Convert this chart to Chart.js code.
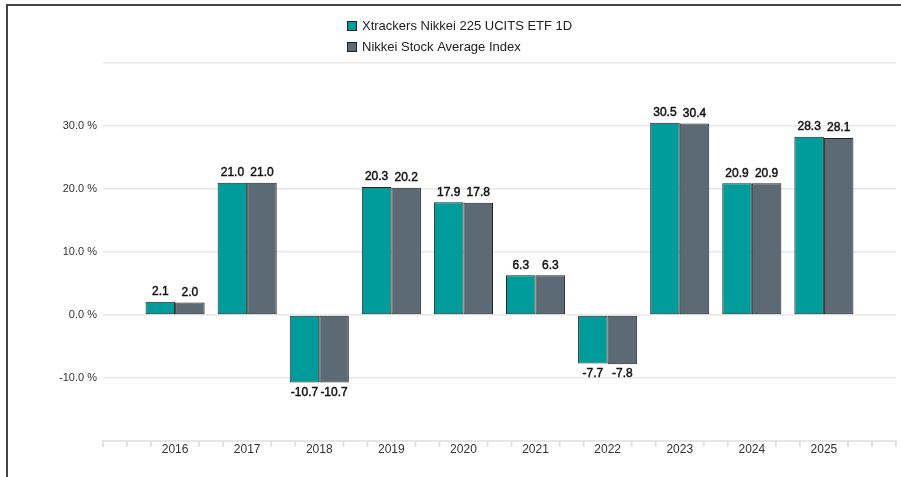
<!DOCTYPE html>
<html>
<head>
<meta charset="utf-8">
<script src="https://cdn.jsdelivr.net/npm/chart.js@4"></script>
<style>
  body { margin: 0; background: #fff; }
  #wrap { position: relative; width: 901px; height: 477px; overflow: hidden; }
  #frame {
    position: absolute; left: 6px; top: 4px; right: -10px; bottom: -10px;
    border-left: 2px solid #444; border-top: 2px solid #444;
    pointer-events: none;
  }
</style>
</head>
<body>
<div id="wrap">
  <canvas id="chart" width="901" height="477"></canvas>
  <div id="frame"></div>
</div>
<script>
const years = ["2016", "2017", "2018", "2019", "2020", "2021", "2022", "2023", "2024", "2025"];
const etfValues = [2.1, 21.0, -10.7, 20.3, 17.9, 6.3, -7.7, 30.5, 20.9, 28.3];
const indexValues = [2.0, 21.0, -10.7, 20.2, 17.8, 6.3, -7.8, 30.4, 20.9, 28.1];
const seriesNames = ["Xtrackers Nikkei 225 UCITS ETF 1D", "Nikkei Stock Average Index"];
const yTicks = [-20, -10, 0, 10, 20, 30, 40];

const teal = "#009c9c";
const slate = "#5b6a74";

Chart.defaults.font.family = "'Liberation Sans', Arial, sans-serif";
Chart.defaults.color = "#333";

// empty slot at each end of the axis, like the original
const labels = ["", ...years, ""];
const pad = (arr) => [null, ...arr, null];

const valueLabels = {
  id: "valueLabels",
  afterDatasetsDraw(chart) {
    const ctx = chart.ctx;
    ctx.save();
    ctx.font = "12px 'Liberation Sans', Arial, sans-serif";
    ctx.fillStyle = "#111";
    ctx.strokeStyle = "#111";
    ctx.lineWidth = 0.45;
    ctx.textAlign = "center";
    chart.data.datasets.forEach((ds, di) => {
      chart.getDatasetMeta(di).data.forEach((bar, i) => {
        const v = ds.data[i];
        if (v === null) return;
        const txt = v.toFixed(1);
        let y;
        if (v >= 0) {
          ctx.textBaseline = "bottom";
          y = bar.y - 4;
        } else {
          ctx.textBaseline = "top";
          y = bar.y + 4;
        }
        ctx.fillText(txt, bar.x, y);
        ctx.strokeText(txt, bar.x, y);
      });
    });
    ctx.restore();
  },
};

const axisTicks = {
  id: "axisTicks",
  afterDraw(chart) {
    const x = chart.scales.x;
    const ctx = chart.ctx;
    const n = chart.data.labels.length;
    const marks = [x.left, x.right];
    for (let i = 0; i < n - 1; i++) {
      const a = x.getPixelForValue(i);
      const b = x.getPixelForValue(i + 1);
      marks.push(a + (b - a) / 3, a + (2 * (b - a)) / 3);
    }
    ctx.save();
    ctx.strokeStyle = "#e2e2e2";
    ctx.lineWidth = 2;
    marks.forEach((px) => {
      ctx.beginPath();
      ctx.moveTo(px, x.top);
      ctx.lineTo(px, x.top + 6);
      ctx.stroke();
    });
    ctx.restore();
  },
};

const stackedLegend = {
  id: "stackedLegend",
  afterDraw(chart, args, opts) {
    const ctx = chart.ctx;
    ctx.save();
    ctx.font = "13px 'Liberation Sans', Arial, sans-serif";
    ctx.textBaseline = "middle";
    ctx.textAlign = "left";
    chart.data.datasets.forEach((ds, i) => {
      const cy = opts.top + i * opts.rowGap;
      ctx.fillStyle = ds.backgroundColor;
      ctx.fillRect(opts.left, cy - 5, 10, 10);
      ctx.strokeStyle = "#222";
      ctx.lineWidth = 1;
      ctx.strokeRect(opts.left + 0.5, cy - 4.5, 9, 9);
      ctx.fillStyle = "#222";
      ctx.fillText(ds.label, opts.left + 15, cy);
    });
    ctx.restore();
  },
};

new Chart(document.getElementById("chart"), {
  type: "bar",
  data: {
    labels: labels,
    datasets: [
      {
        label: seriesNames[0],
        data: pad(etfValues),
        backgroundColor: teal,
        borderColor: "#222",
        borderWidth: 1,
        borderSkipped: false,
      },
      {
        label: seriesNames[1],
        data: pad(indexValues),
        backgroundColor: slate,
        borderColor: "#222",
        borderWidth: 1,
        borderSkipped: false,
      },
    ],
  },
  options: {
    responsive: false,
    animation: false,
    categoryPercentage: 0.82,
    barPercentage: 1,
    layout: { padding: { top: 63, right: 5, left: 0, bottom: 0 } },
    plugins: {
      legend: { display: false },
      tooltip: { enabled: false },
      stackedLegend: { left: 347, top: 26, rowGap: 21 },
    },
    scales: {
      x: {
        offset: false,
        grid: { display: false, tickLength: 0 },
        border: { display: true, color: "#e6e6e6", width: 2 },
        ticks: { font: { size: 12 }, color: "#333", padding: 1, maxRotation: 0, autoSkip: false },
        afterFit(scale) { scale.height = 36; },
      },
      y: {
        min: yTicks[0],
        max: yTicks[yTicks.length - 1],
        afterBuildTicks(scale) { scale.ticks = yTicks.map((v) => ({ value: v })); },
        grid: { color: "#e8e8e8", lineWidth: 1.5, drawTicks: false },
        border: { display: false },
        ticks: {
          font: { size: 11 },
          color: "#333",
          padding: 6,
          callback: (v) => (v === yTicks[0] || v === yTicks[yTicks.length - 1] ? "" : v.toFixed(1) + " %"),
        },
        afterFit(scale) { scale.width = 103; },
      },
    },
  },
  plugins: [valueLabels, axisTicks, stackedLegend],
});
</script>
</body>
</html>
